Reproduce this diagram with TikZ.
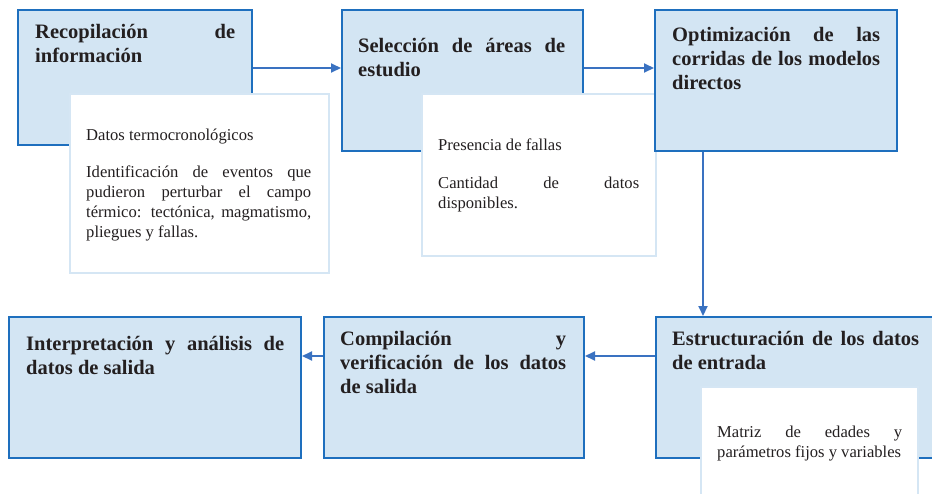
\documentclass[tikz,border=0pt]{standalone}
\usepackage{fontspec}
\setmainfont{Liberation Serif}
\usetikzlibrary{arrows.meta}
\definecolor{boxfill}{HTML}{D3E5F3}
\definecolor{boxline}{HTML}{1E6FBE}
\definecolor{arrline}{HTML}{3A72C1}
\definecolor{wline}{HTML}{D5E6F4}
\definecolor{txt}{HTML}{231F20}
\tikzset{
  bluebox/.style={draw=boxline, fill=boxfill, line width=2pt, anchor=north west, inner sep=0pt},
  whitebox/.style={draw=wline, fill=white, line width=2pt, anchor=north west, inner sep=0pt},
  titletext/.style={anchor=north west, inner sep=0pt, align=justify, text=txt,
    font=\fontsize{20.5}{24}\selectfont\bfseries},
  bodytext/.style={anchor=north west, inner sep=0pt, align=justify, text=txt,
    font=\fontsize{16.6}{20}\selectfont},
  arr/.style={draw=arrline, line width=2pt, -{Triangle[length=10pt,width=9pt]}}
}
\begin{document}
\begin{tikzpicture}[x=1pt,y=-1pt]
\useasboundingbox (0,0) rectangle (932,493);
\clip (0,0) rectangle (932,493);
% boxes
\node[bluebox, minimum width=234pt, minimum height=135pt] (b1) at (17,9) {};
\node[whitebox, minimum width=259pt, minimum height=179pt] (w1) at (69,93) {};
\node[bluebox, minimum width=241pt, minimum height=141pt] (b2) at (341,9) {};
\node[whitebox, minimum width=234pt, minimum height=162pt] (w2) at (421,93) {};
\node[bluebox, minimum width=242pt, minimum height=141pt] (b3) at (654,9) {};
\node[bluebox, minimum width=292pt, minimum height=141pt] (b4) at (8,316) {};
\node[bluebox, minimum width=260pt, minimum height=141pt] (b5) at (323,316) {};
\node[bluebox, minimum width=290pt, minimum height=141pt] (b6) at (655,316) {};
\node[whitebox, minimum width=217pt, minimum height=130pt] (w6) at (700,386) {};
% titles
\node[titletext, text width=200pt] (t1) at (35,21.2) {\strut Recopilación de\linebreak información};
\node[titletext, text width=207pt] (t2) at (358,35.2) {\strut Selección de áreas de\linebreak estudio};
\node[titletext, text width=208pt] (t3) at (672,24.2) {\strut Optimización de las\linebreak corridas de los modelos\linebreak directos};
\node[titletext, text width=258pt] (t4) at (26,333.2) {\strut Interpretación y análisis de\linebreak datos de salida};
\node[titletext, text width=226pt] (t5) at (340,328.2) {\strut Compilación y\linebreak verificación de los datos\linebreak de salida};
\node[titletext, text width=247pt] (t6) at (672,328.2) {\strut Estructuración de los datos\linebreak de entrada};
% body texts
\node[bodytext, text width=225pt] (d1) at (86,126) {\strut Datos termocronológicos\par\vspace{17pt}\strut Identificación de eventos que\linebreak pudieron perturbar el campo\linebreak térmico: tectónica, magmatismo,\linebreak pliegues y fallas.};
\node[bodytext, text width=201pt] (d2) at (438,136) {\strut Presencia de fallas\par\vspace{18pt}\strut Cantidad de datos\linebreak disponibles.};
\node[bodytext, text width=185pt] (d6) at (717,423) {\strut Matriz de edades y\linebreak parámetros fijos y variables};
% helper coordinates
\coordinate (ytop) at (0,68);
\coordinate (ybot) at (0,356);
\coordinate (xv) at (703,0);
% connectors
\draw[arr] (b1.east |- ytop) -- (b2.west |- ytop);
\draw[arr] (b2.east |- ytop) -- (b3.west |- ytop);
\draw[arr] (b3.south -| xv) -- (b6.north -| xv);
\draw[arr] (b6.west |- ybot) -- (b5.east |- ybot);
\draw[arr] (b5.west |- ybot) -- (b4.east |- ybot);
\end{tikzpicture}
\end{document}
